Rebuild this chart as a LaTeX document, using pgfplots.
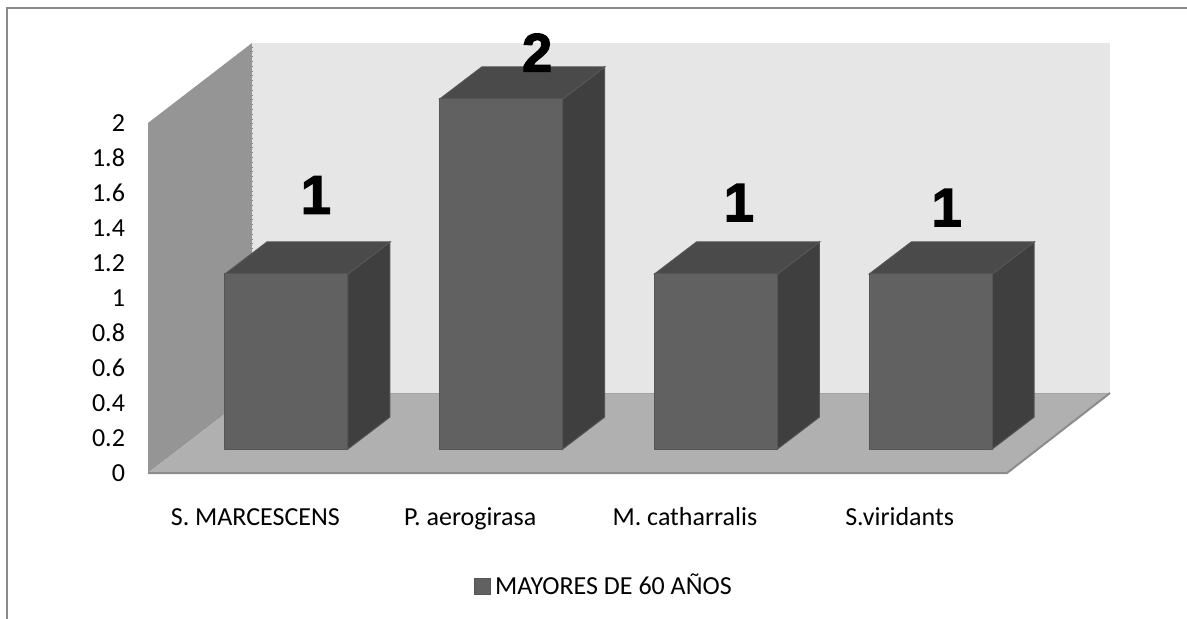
\documentclass[border=0pt]{standalone}
\usepackage{fontspec}
\setmainfont{Carlito}
\newfontfamily\heavy[BoldFeatures={FakeBold=2.5}]{Liberation Sans}
\usepackage{pgfplots}
\usepackage{pgfplotstable}
\pgfplotsset{compat=1.18}

\definecolor{frontc}{HTML}{616161}
\definecolor{sidec}{HTML}{3F3F3F}
\definecolor{topc}{HTML}{4A4A4A}
\definecolor{edgec}{HTML}{555555}
\definecolor{backwall}{HTML}{E6E6E6}
\definecolor{sidewall}{HTML}{959595}
\definecolor{floorc}{HTML}{B0B0B0}
\definecolor{floorline}{HTML}{8C8C8C}
\definecolor{framec}{HTML}{8A8A8A}

% category position, value, label offset (pt)
\pgfplotstableread{
x   v  lx    ly
0.5 1  30.3  51.5
1.5 2  33.5  35.2
2.5 1  27.0  47.7
3.5 1  23.5  45.2
}\bars

\begin{document}
\begin{tikzpicture}
  % page = 1187 x 619 px at 0.5pt per px
  \useasboundingbox (0pt,0pt) rectangle (593.5pt,-309.5pt);
  \draw[framec, line width=1pt] (3.5pt,-309.5pt) -- (3.5pt,-4pt) -- (593.5pt,-4pt);
  \begin{axis}[
      at={(74pt,-236.5pt)}, anchor=south west,
      x=107.375pt, y=87.5pt,
      xmin=0, xmax=4, ymin=0, ymax=2,
      clip=false,
      axis line style={draw=none},
      major tick length=0pt,
      ytick={0,0.2,0.4,0.6,0.8,1,1.2,1.4,1.6,1.8,2},
      xtick={0.5,1.5,2.5,3.5},
      xticklabels={S. MARCESCENS, P. aerogirasa, M. catharralis, S.viridants},
      tick label style={font=\fontsize{13}{15}\selectfont},
      /pgf/number format/assume math mode=true,
      yticklabel style={anchor=east, xshift=-8pt},
      xticklabel style={anchor=base, yshift=-26pt},
      legend style={at={(0.532,-0.323)}, anchor=center, draw=none, fill=none,
        font=\fontsize{13}{15}\selectfont, inner sep=0pt},
    ]
    % walls and floor
    \addplot[fill=sidewall, draw=none, forget plot] coordinates
      {(0,0) (0.4843,0.4571) (0.4843,2.4571) (0,2)} -- cycle;
    \addplot[fill=backwall, draw=none, forget plot] coordinates
      {(0.4843,0.4571) (4.4797,0.4571) (4.4797,2.4571) (0.4843,2.4571)} -- cycle;
    \addplot[gray, dotted, forget plot] coordinates {(0.4843,0.4571) (0.4843,2.4571)};
    \addplot[fill=floorc, draw=none, forget plot] coordinates
      {(0,0) (4,0) (4.4797,0.4571) (0.4843,0.4571)} -- cycle;
    \addplot[floorline!80!white, line width=0.5pt, forget plot] coordinates
      {(0.4843,0.4571) (4.4797,0.4571)};
    \addplot[floorline, line width=1pt, forget plot] coordinates
      {(0,0) (4,0) (4.4797,0.4571)};

    % 3d bars
    \addplot[
      scatter, only marks, mark=*, mark size=0pt,
      mark options={draw=none, fill=none},
      visualization depends on={\thisrow{v}\as\val},
      visualization depends on={\thisrow{lx}\as\lx},
      visualization depends on={\thisrow{ly}\as\ly},
      scatter/@pre marker code/.code={%
        \pgfmathsetlengthmacro\h{\val*87.5pt}%
        \fill[sidec, draw=edgec, line width=0.5pt]
          (46.3pt,12pt) -- (67.3pt,28pt) -- (67.3pt,28pt-\h) -- (46.3pt,12pt-\h) -- cycle;
        \fill[topc, draw=edgec, line width=0.5pt]
          (-15.2pt,12pt) -- (5.8pt,28pt) -- (67.3pt,28pt) -- (46.3pt,12pt) -- cycle;
        \fill[frontc, draw=edgec, line width=0.5pt]
          (-15.2pt,12pt-\h) rectangle (46.3pt,12pt);
        \node[font=\heavy\bfseries\fontsize{27}{30}\selectfont, inner sep=0pt]
          at (\lx pt,\ly pt) {\pgfmathprintnumber{\val}};
      },
      scatter/@post marker code/.code={},
      legend image code/.code={%
        \fill[frontc, draw=edgec, line width=0.5pt] (0pt,-4pt) rectangle (8pt,4pt);},
    ] table[x=x, y=v] {\bars};
    \addlegendentry{MAYORES DE 60 AÑOS}
  \end{axis}
\end{tikzpicture}
\end{document}
